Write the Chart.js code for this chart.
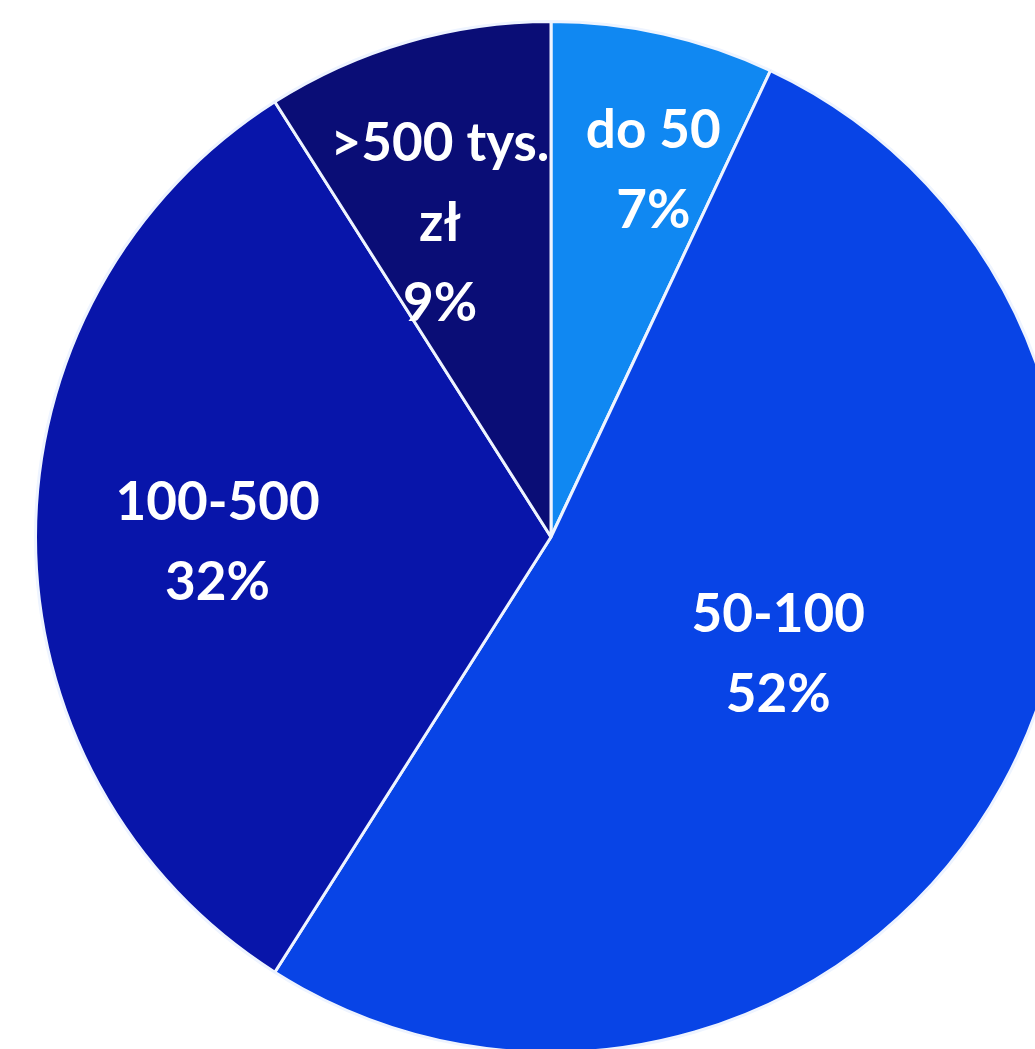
<!DOCTYPE html>
<html>
<head>
<meta charset="utf-8">
<script src="https://cdn.jsdelivr.net/npm/chart.js@4/dist/chart.umd.min.js"></script>
<style>
  html, body { margin: 0; padding: 0; background: #ffffff; overflow: hidden; width: 1035px; height: 1049px; }
  #wrap { position: absolute; left: 0; top: 0; width: 1102px; height: 1074px; }
</style>
</head>
<body>
<div id="wrap"><canvas id="c" width="1102" height="1074"></canvas></div>
<script>
const categories = ["do 50", "50-100", "100-500", ">500 tys. zł"];
const labelLines = [["do 50"], ["50-100"], ["100-500"], [">500 tys.", "zł"]];
const values = [7, 52, 32, 9];
const colors = ["#1088f2", "#0844e6", "#0815aa", "#0a0d76"];

// label placement: [angle offset in degrees from slice middle, radius fraction]
const labelPlacement = [[3.0, 0.738], [-1.3, 0.497], [-1.0, 0.647], [-3.3, 0.645]];

const labelPlugin = {
  id: 'sliceLabels',
  afterDatasetsDraw(chart) {
    const ctx = chart.ctx;
    const meta = chart.getDatasetMeta(0);
    const total = values.reduce((a, b) => a + b, 0);
    ctx.save();
    ctx.fillStyle = '#ffffff';
    ctx.font = 'bold 53px Lato, "Open Sans", sans-serif';
    ctx.textAlign = 'center';
    ctx.textBaseline = 'middle';
    const lineH = 80;
    meta.data.forEach((arc, i) => {
      const p = arc.getProps(['x', 'y', 'startAngle', 'endAngle', 'outerRadius'], true);
      const mid = (p.startAngle + p.endAngle) / 2 + labelPlacement[i][0] * Math.PI / 180;
      const r = p.outerRadius * labelPlacement[i][1];
      const cx = p.x + Math.cos(mid) * r;
      const cy = p.y + Math.sin(mid) * r;
      const lines = labelLines[i].concat([Math.round(values[i] / total * 100) + '%']);
      const y0 = cy - (lines.length - 1) * lineH / 2;
      lines.forEach((t, k) => ctx.fillText(t, cx, y0 + k * lineH));
    });
    ctx.restore();
  }
};

new Chart(document.getElementById('c'), {
  type: 'pie',
  data: {
    labels: categories,
    datasets: [{
      data: values,
      backgroundColor: colors,
      borderColor: '#eef4ff',
      borderWidth: 3
    }]
  },
  options: {
    responsive: false,
    animation: false,
    layout: { padding: 20 },
    plugins: { legend: { display: false }, tooltip: { enabled: false } }
  },
  plugins: [labelPlugin]
});
</script>
</body>
</html>
